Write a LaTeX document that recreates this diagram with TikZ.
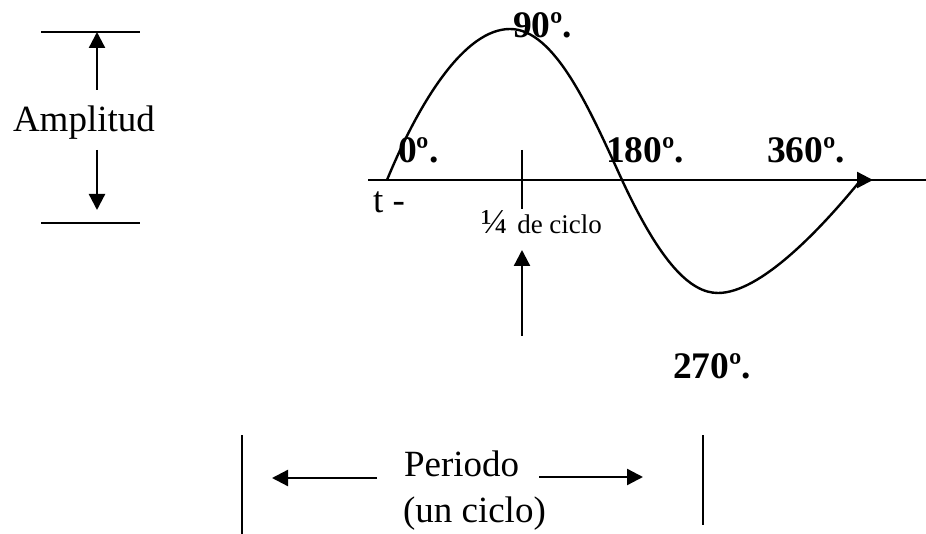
\documentclass[tikz,border=0pt]{standalone}
\usepackage{fontspec}
\setmainfont{Liberation Serif}
\usetikzlibrary{arrows.meta}
\tikzset{
  lbl/.style={anchor=base west, inner sep=0pt, outer sep=0pt, font=\fontsize{37}{40}\selectfont},
  blbl/.style={lbl, font=\fontsize{37.5}{40}\selectfont\bfseries},
  ln/.style={line width=2.3pt},
  arr/.style={line width=2.3pt, -{Triangle[length=16pt,width=16pt]}},
}
\begin{document}
\begin{tikzpicture}[x=1pt,y=-1pt]
\useasboundingbox (0,0) rectangle (926,534);
% Amplitud
\coordinate (atl) at (41,32);  \coordinate (atr) at (140,32);
\coordinate (abl) at (41,223); \coordinate (abr) at (140,223);
\coordinate (aus) at (97,90);  \coordinate (aut) at (97,32);
\coordinate (ads) at (97,150); \coordinate (adt) at (97,210);
\draw[ln] (atl) -- (atr);
\draw[ln] (abl) -- (abr);
\draw[arr] (aus) -- (aut);
\draw[arr] (ads) -- (adt);
\node[lbl] (amp) at (13,132) {Amplitud};
% axis
\coordinate (ax0) at (368,180); \coordinate (ax1) at (926,180);
\draw[ln] (ax0) -- (ax1);
% sine curve
\coordinate (s0) at (387,180);
\coordinate (s1) at (510,29);
\coordinate (s2) at (622,180);
\coordinate (s3) at (718,293);
\coordinate (s4) at (860,181);
\draw[line width=2.4pt, line join=round]
  (s0) .. controls (420,100) and (465,29) .. (s1)
       .. controls (555,29) and (590,110) .. (s2)
       .. controls (660,262) and (690,293) .. (s3)
       .. controls (760,293) and (820,230) .. (s4);
\coordinate (as) at (857,180); \coordinate (at) at (873,180);
\draw[arr] (as) -- (at);
% tick and quarter arrow
\coordinate (tk0) at (522,150); \coordinate (tk1) at (522,209);
\draw[ln] (tk0) -- (tk1);
\coordinate (qs) at (522,336); \coordinate (qt) at (522,250);
\draw[arr] (qs) -- (qt);
% labels
\node[blbl] (l90) at (513,38) {90º.};
\node[blbl] (l0) at (398,163) {0º.};
\node[blbl] (l180) at (606,163) {180º.};
\node[blbl] (l360) at (767,163) {360º.};
\node[blbl] (l270) at (673,378) {270º.};
\node[lbl] (t) at (373,213) {t -};
\node[lbl, font=\fontsize{35}{36}\selectfont] (q) at (481,234) {¼\hspace{10pt}{\fontsize{27}{30}\selectfont de ciclo}};
% periodo
\coordinate (v1a) at (242,435); \coordinate (v1b) at (242,534);
\coordinate (v2a) at (703,435); \coordinate (v2b) at (703,525);
\draw[ln] (v1a) -- (v1b);
\draw[ln] (v2a) -- (v2b);
\node[lbl] (per) at (404,476) {Periodo};
\node[lbl] (unc) at (403,522) {(un ciclo)};
\coordinate (pls) at (377,478); \coordinate (plt) at (272,478);
\coordinate (prs) at (539,477); \coordinate (prt) at (643,477);
\draw[arr] (pls) -- (plt);
\draw[arr] (prs) -- (prt);
\end{tikzpicture}
\end{document}
